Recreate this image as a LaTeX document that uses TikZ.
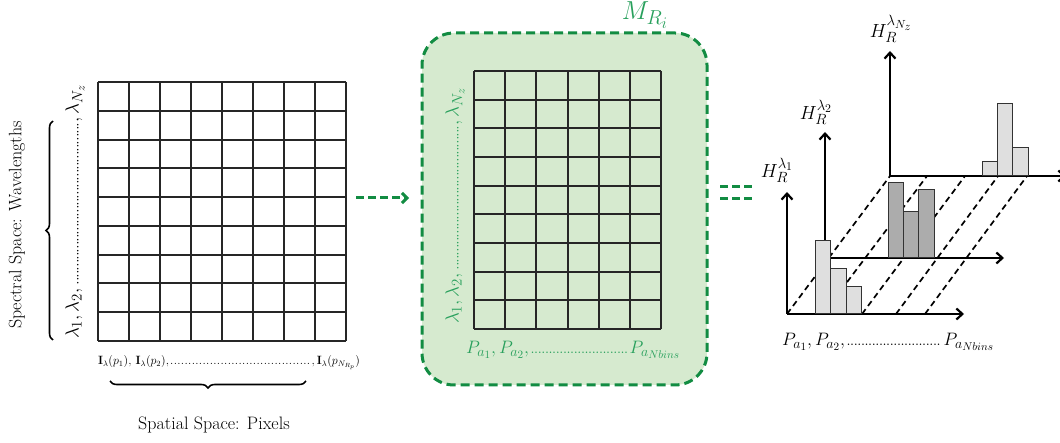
\RequirePackage{fix-cm}
\documentclass[tikz,border=0pt]{standalone}
\usetikzlibrary{arrows.meta,decorations.pathreplacing}
\definecolor{flowgreen}{RGB}{18,140,66}
\definecolor{boxgreen}{RGB}{214,234,207}
\definecolor{labgreen}{RGB}{40,160,92}
\renewcommand{\defaultscriptratio}{.78}
\renewcommand{\defaultscriptscriptratio}{.62}
\newcommand{\dotrun}{\leaders\hbox to 3.6pt{\hss.\hss}\hfill}
\begin{document}
\begin{tikzpicture}[x=1pt,y=-1pt,
	cell/.style={line width=1.8pt,black!85},
	axis/.style={line width=2.2pt,black,-{Straight Barb[length=6pt,width=11pt]}},
	trace/.style={line width=1.7pt,black,dash pattern=on 6pt off 4pt},
	lbin/.style={line width=1pt,draw=black!80,fill=gray!25},
	dbin/.style={line width=1pt,draw=black!80,fill=gray!65},
	flow/.style={line width=3pt,flowgreen,dash pattern=on 8pt off 4pt},
	bigtxt/.style={font=\fontsize{18}{21}\selectfont},
	mathtxt/.style={font=\fontsize{19}{23}\selectfont}]
	\useasboundingbox(0,0) rectangle (1060,443);
	
	\foreach \x in {98,129,160,191,222,253,284,315,346} \draw[cell](\x,82)--(\x,341);
	\foreach \y in {82,111,140,168,197,226,255,283,312,341} \draw[cell](98,\y)--(346,\y);
	
	\node[mathtxt,rotate=90,inner sep=0pt] (lamL) at (75,212) {\makebox[254pt]{$\lambda_1,\lambda_2,$\dotrun$,\lambda_{N_z}$}};
	\draw[line width=1.6pt][decorate,decoration={brace,amplitude=7pt}](53,340)--(53,121);
	\node[bigtxt,rotate=90] (spec) at (17,225) {Spectral Space: Wavelengths};
	
	\node[inner sep=0pt,font=\fontsize{12}{14}\selectfont] (pix) at (229,363) {\makebox[262pt]{$\mathbf{I}_\lambda(p_1),\,\mathbf{I}_\lambda(p_2),$\dotrun$,\mathbf{I}_\lambda(p_{N_{R_p}})$}};
	\draw[line width=1.6pt][decorate,decoration={brace,amplitude=7pt}](306,381)--(110,381);
	\node[bigtxt] (spat) at (214,425) {Spatial Space: Pixels};
	
	\coordinate (fa) at (356,198);
	\coordinate (fb) at (409,198);
	\draw[flow][-{Straight Barb[length=5pt,width=10pt]}](fa)--(fb);
	
	\node[draw=flowgreen,line width=3pt,dash pattern=on 9pt off 5pt,fill=boxgreen,rounded corners=32pt,minimum width=285pt,minimum height=352pt] (mbox) at (564.5,209) {};
	\node[labgreen,font=\fontsize{26}{30}\selectfont] (mlab) at (645,15) {$M_{R_i}$};
	
	\foreach \x in {474,505,536,568,599,630,661} \draw[cell](\x,71)--(\x,329);
	\foreach \y in {71,100,128,157,186,214,243,272,300,329} \draw[cell](474,\y)--(661,\y);
	
	\node[labgreen,mathtxt,rotate=90,inner sep=0pt] (lamM) at (455,206) {\makebox[236pt]{$\lambda_1,\lambda_2,$\dotrun$,\lambda_{N_z}$}};
	\node[labgreen,inner sep=0pt,font=\fontsize{18}{21}\selectfont] (binM) at (573,350) {\makebox[214pt]{$P_{a_1},P_{a_2},$\dotrun$P_{a_{Nbins}}$}};
	
	\coordinate (ea) at (720,187);
	\coordinate (eb) at (753,187);
	\coordinate (ec) at (720,199);
	\coordinate (ed) at (753,199);
	\draw[flow](ea)--(eb);
	\draw[flow](ec)--(ed);
	
	\draw[trace](787,314)--(890,176);
	\draw[trace](823,314)--(927,176);
	\draw[trace](862,314)--(965,176);
	\draw[trace](896,314)--(998,176);
	\draw[trace](925,314)--(1027,176);
	
	\coordinate (oA) at (787,314);
	\coordinate (oB) at (825,258);
	\coordinate (oC) at (890,176);
	\coordinate (vA) at (787,192);
	\coordinate (vB) at (825,132);
	\coordinate (vC) at (890,51);
	\coordinate (hA) at (964,314);
	\coordinate (hB) at (1004,258);
	\coordinate (hC) at (1066,176);
	\draw[axis](oC)--(vC);
	\draw[axis](oC)--(hC);
	\draw[axis](oB)--(vB);
	\draw[axis](oB)--(hB);
	\draw[axis](oA)--(vA);
	\draw[axis](oA)--(hA);
	
	\draw[lbin](982,176) rectangle (997,162);
	\draw[lbin](997,176) rectangle (1012,104);
	\draw[lbin](1012,176) rectangle (1028,148);
	\draw[dbin](888,258) rectangle (903,183);
	\draw[dbin](903,258) rectangle (918,212);
	\draw[dbin](918,258) rectangle (934,190);
	\draw[lbin](815,314) rectangle (830,241);
	\draw[lbin](830,314) rectangle (846,269);
	\draw[lbin](846,314) rectangle (861,287);
	
	\node[mathtxt] (hlA) at (777,170) {$H_R^{\lambda_1}$};
	\node[mathtxt] (hlB) at (816,112) {$H_R^{\lambda_2}$};
	\node[mathtxt] (hlC) at (891,29) {$H_R^{\lambda_{N_z}}$};
	\node[inner sep=0pt,font=\fontsize{18}{21}\selectfont] (binR) at (888,342) {\makebox[212pt]{$P_{a_1},P_{a_2},$\dotrun$P_{a_{Nbins}}$}};
\end{tikzpicture}
\end{document}
